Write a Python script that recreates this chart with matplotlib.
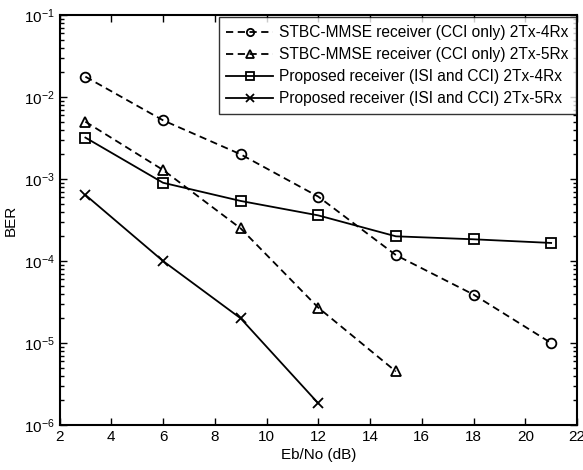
import matplotlib
matplotlib.use("Agg")
import matplotlib.pyplot as plt
from matplotlib.ticker import LogLocator, FixedLocator, NullFormatter

plt.rcParams['font.family'] = ['Liberation Sans', 'DejaVu Sans']
plt.rcParams['mathtext.fontset'] = 'custom'
plt.rcParams['mathtext.rm'] = 'Liberation Sans'
plt.rcParams['mathtext.it'] = 'Liberation Sans'
plt.rcParams['mathtext.default'] = 'regular'

snr_a = [3, 6, 9, 12, 15, 18, 21]
ber_stbc_4rx = [1.77e-2, 5.2e-3, 2.0e-3, 6.1e-4, 1.18e-4, 3.9e-5, 1.0e-5]
snr_b = [3, 6, 9, 12, 15]
ber_stbc_5rx = [5.0e-3, 1.29e-3, 2.5e-4, 2.7e-5, 4.5e-6]
snr_c = [3, 6, 9, 12, 15, 18, 21]
ber_prop_4rx = [3.2e-3, 9.0e-4, 5.4e-4, 3.6e-4, 2.0e-4, 1.84e-4, 1.66e-4]
snr_d = [3, 6, 9, 12]
ber_prop_5rx = [6.4e-4, 1.0e-4, 2.0e-5, 1.84e-6]

labels = ["STBC-MMSE receiver (CCI only) 2Tx-4Rx",
          "STBC-MMSE receiver (CCI only) 2Tx-5Rx",
          "Proposed receiver (ISI and CCI) 2Tx-4Rx",
          "Proposed receiver (ISI and CCI) 2Tx-5Rx"]
xticks = [2, 4, 6, 8, 10, 12, 14, 16, 18, 20, 22]

fig = plt.figure(figsize=(5.83, 4.70), dpi=100)
ax = fig.add_axes([59.5/583, 1 - 425/470, (577 - 59.5)/583, (425 - 15)/470])

common = dict(color='black', lw=1.3, ms=7, mfc='none', mew=1.3)
ax.semilogy(snr_a, ber_stbc_4rx, ls=(0, (4, 2.5)), marker='o', label=labels[0], **common)
ax.semilogy(snr_b, ber_stbc_5rx, ls=(0, (4, 2.5)), marker='^', label=labels[1], **common)
ax.semilogy(snr_c, ber_prop_4rx, ls='-', marker='s', label=labels[2], **common)
ax.semilogy(snr_d, ber_prop_5rx, ls='-', marker='x', label=labels[3], **common)

ax.set_xlim(2, 22)
ax.set_ylim(1e-6, 1e-1)
ax.xaxis.set_major_locator(FixedLocator(xticks))
ax.yaxis.set_major_locator(LogLocator(base=10, numticks=10))
ax.yaxis.set_minor_locator(LogLocator(base=10, subs=range(2, 10), numticks=100))
ax.yaxis.set_minor_formatter(NullFormatter())

ax.tick_params(which='both', direction='in', top=True, right=True, labelsize=11, width=1.0)
ax.tick_params(which='major', length=5)
ax.tick_params(which='minor', length=3)
for s in ax.spines.values():
    s.set_linewidth(1.5)

ax.set_xlabel("Eb/No (dB)", fontsize=11, labelpad=3)
ax.set_ylabel("BER", fontsize=11, labelpad=4)

leg = ax.legend(loc='upper right', bbox_to_anchor=(0.999, 0.994), fontsize=11.2,
                frameon=True, fancybox=False, edgecolor='black', borderaxespad=0.0,
                handlelength=3.0, labelspacing=0.45, borderpad=0.5, handletextpad=0.4,
                markerscale=0.75)
leg.get_frame().set_linewidth(1.0)

fig.savefig("out.png", dpi=100)
